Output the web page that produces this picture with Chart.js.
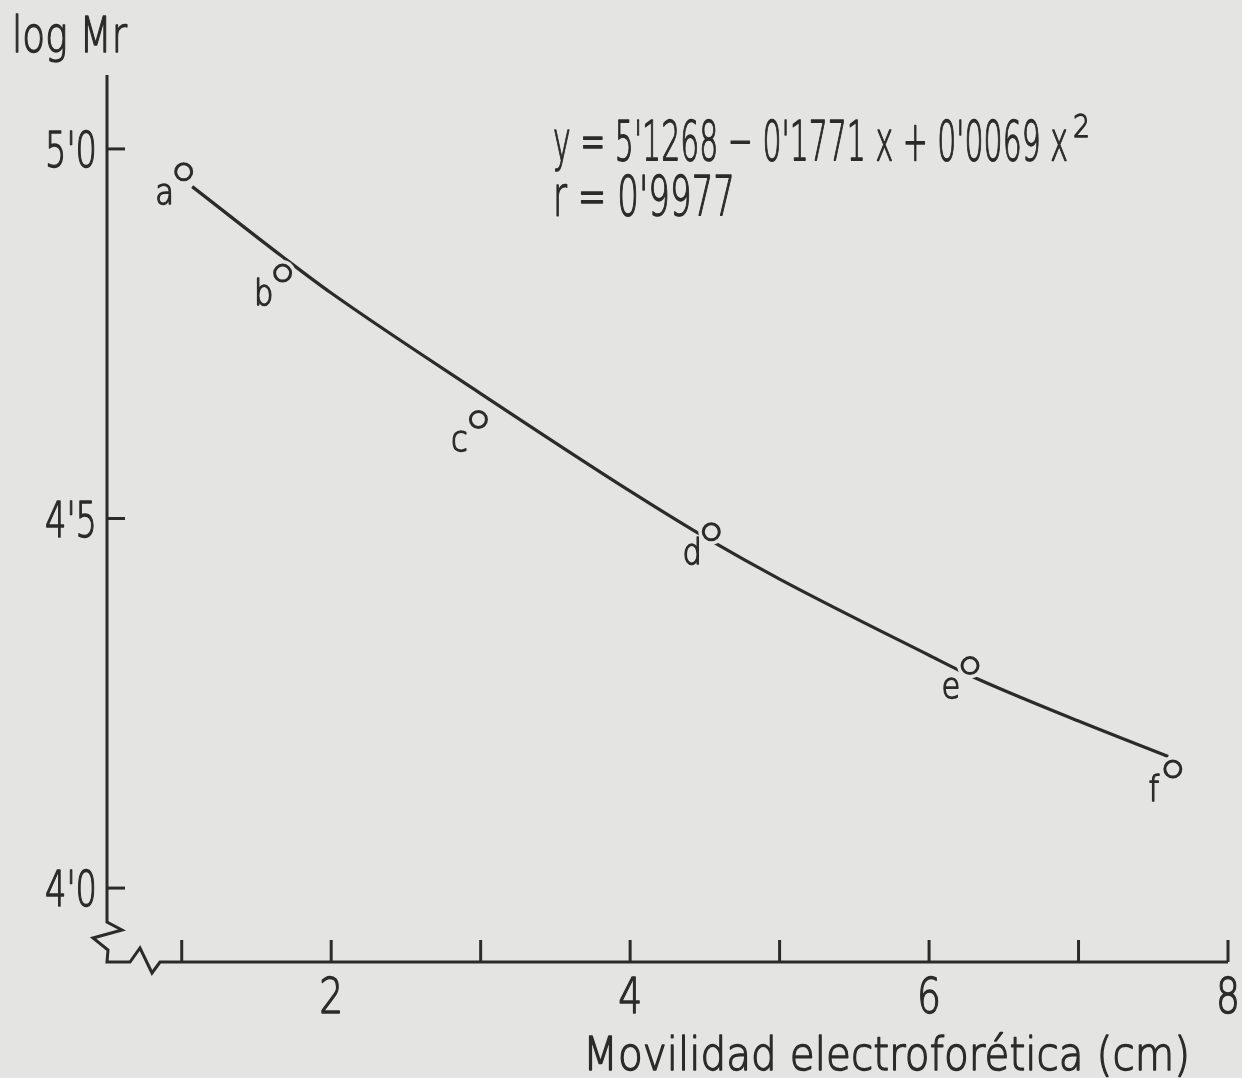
<!DOCTYPE html>
<html>
<head>
<meta charset="utf-8">
<script src="https://cdn.jsdelivr.net/npm/chart.js@4.4.1/dist/chart.umd.min.js"></script>
<style>
  html, body { margin: 0; padding: 0; background: #e4e4e2; }
  #wrap { width: 1242px; height: 1078px; }
</style>
</head>
<body>
<div id="wrap"><canvas id="gelChart" width="1242" height="1078"></canvas></div>
<script>
// measured standards (electrophoretic mobility vs log Mr)
const pointLabels = ['a', 'b', 'c', 'd', 'e', 'f'];
const mobility = [1.013, 1.675, 2.985, 4.543, 6.274, 7.631];
const logMr = [4.969, 4.832, 4.634, 4.482, 4.301, 4.161];

// fitted curve as traced on the drawing
const curveX = [1.07, 1.675, 2.0, 3.0, 4.0, 4.54, 5.0, 6.0, 6.27, 7.0, 7.6];
const curveY = [4.949, 4.854, 4.805, 4.669, 4.537, 4.470, 4.418, 4.315, 4.288, 4.226, 4.178];

const xTicks = [1, 2, 3, 4, 5, 6, 7, 8];
const xTickLabels = { 2: '2', 4: '4', 6: '6', 8: '8' };
const yTicks = [4.0, 4.5, 5.0];
const yTickLabels = ["4'0", "4'5", "5'0"];

const INK = '#2b2b2b';
const PAPER = '#e4e4e2';
const FONT = "'DejaVu Sans', sans-serif";
const WEIGHT = '200';
const TEXT_STROKE = 1.4;

function paint(ctx, text) {
    ctx.lineWidth = TEXT_STROKE;
    ctx.lineJoin = 'round';
    ctx.fillText(text, 0, 0);
    ctx.strokeText(text, 0, 0);
}

// draw text squeezed/stretched to a given width
function fitText(ctx, text, x, y, size, width, align) {
    ctx.save();
    ctx.font = WEIGHT + ' ' + size + 'px ' + FONT;
    const w = ctx.measureText(text).width;
    const sx = width / w;
    let left = x;
    if (align === 'right') left = x - width;
    if (align === 'center') left = x - width / 2;
    ctx.translate(left, y);
    ctx.scale(sx, 1);
    ctx.textAlign = 'left';
    ctx.textBaseline = 'alphabetic';
    paint(ctx, text);
    ctx.restore();
}

// draw text with a fixed horizontal squeeze factor
function squeezeText(ctx, text, x, y, size, sx) {
    ctx.save();
    ctx.font = WEIGHT + ' ' + size + 'px ' + FONT;
    const w = ctx.measureText(text).width * sx;
    ctx.translate(x - w / 2, y);
    ctx.scale(sx, 1);
    ctx.textAlign = 'left';
    paint(ctx, text);
    ctx.restore();
}

const axesPlugin = {
    id: 'handAxes',
    afterDraw(chart) {
        const ctx = chart.ctx;
        const xs = chart.scales.x;
        const ys = chart.scales.y;
        const x0 = xs.getPixelForValue(xs.min);
        const y0 = ys.getPixelForValue(ys.min);
        const top = ys.getPixelForValue(ys.max);
        const right = xs.getPixelForValue(xs.max);

        ctx.save();
        ctx.strokeStyle = INK;
        ctx.fillStyle = INK;
        ctx.lineWidth = 3;
        ctx.lineJoin = 'miter';
        ctx.lineCap = 'butt';

        // y axis with break, then x axis
        ctx.beginPath();
        ctx.moveTo(x0, top);
        ctx.lineTo(x0, y0 - 40);
        ctx.lineTo(x0 + 15, y0 - 32);
        ctx.lineTo(x0 - 14, y0 - 24);
        ctx.lineTo(x0 + 1, y0 - 12);
        ctx.lineTo(x0, y0);
        ctx.lineTo(x0 + 23, y0);
        ctx.lineTo(x0 + 33, y0 - 14);
        ctx.lineTo(x0 + 45, y0 + 11);
        ctx.lineTo(x0 + 53, y0);
        ctx.lineTo(right, y0);
        ctx.stroke();

        // x ticks (upwards)
        xTicks.forEach(v => {
            const px = xs.getPixelForValue(v);
            ctx.lineWidth = 3;
            ctx.beginPath();
            ctx.moveTo(px, y0);
            ctx.lineTo(px, y0 - 22);
            ctx.stroke();
            if (xTickLabels[v]) {
                fitText(ctx, xTickLabels[v], px, y0 + 51, 49, 24, 'center');
            }
        });

        // y ticks (to the right)
        yTicks.forEach((v, i) => {
            const py = ys.getPixelForValue(v);
            ctx.lineWidth = 3;
            ctx.beginPath();
            ctx.moveTo(x0, py);
            ctx.lineTo(x0 + 18, py);
            ctx.stroke();
            fitText(ctx, yTickLabels[i], x0 - 10, py + 18, 49, 52, 'right');
        });

        // titles
        fitText(ctx, 'log Mr', 12, 52, 50, 115, 'left');
        fitText(ctx, 'Movilidad electroforética (cm)', 583, 1070, 47, 607, 'left');

        // equation
        fitText(ctx, "y = 5'1268 \u2212 0'1771 x + 0'0069 x", 553, 160, 56, 515, 'left');
        fitText(ctx, '2', 1073, 137, 32, 17, 'left');
        fitText(ctx, "r = 0'9977", 553, 215, 56, 182, 'left');

        // point letters
        const meta = chart.getDatasetMeta(0);
        meta.data.forEach((pt, i) => {
            squeezeText(ctx, pointLabels[i], pt.x - 19, pt.y + 32, 36, 0.85);
        });
        ctx.restore();
    }
};

const ctx = document.getElementById('gelChart').getContext('2d');
const gelChart = new Chart(ctx, {
    type: 'scatter',
    data: {
        datasets: [
            {
                label: 'patrones',
                data: mobility.map((m, i) => ({ x: m, y: logMr[i] })),
                showLine: false,
                pointStyle: 'circle',
                pointRadius: 8,
                pointBorderWidth: 3,
                pointBorderColor: INK,
                pointBackgroundColor: 'rgba(0,0,0,0)',
                order: 0
            },
            {
                label: 'halo',
                data: mobility.map((m, i) => ({ x: m, y: logMr[i] })),
                showLine: false,
                pointRadius: 13,
                pointBorderWidth: 0,
                pointBackgroundColor: PAPER,
                order: 1
            },
            {
                label: 'ajuste',
                data: curveX.map((c, i) => ({ x: c, y: curveY[i] })),
                showLine: true,
                borderColor: INK,
                borderWidth: 3.2,
                pointRadius: 0,
                cubicInterpolationMode: 'monotone',
                fill: false,
                order: 2
            }
        ]
    },
    options: {
        responsive: false,
        animation: false,
        layout: { padding: { left: 107, right: 14, top: 75, bottom: 116 } },
        plugins: {
            legend: { display: false },
            tooltip: { enabled: false }
        },
        scales: {
            x: { type: 'linear', min: 0.5, max: 8, display: false },
            y: { type: 'linear', min: 3.9, max: 5.1, display: false }
        }
    },
    plugins: [axesPlugin]
});
</script>
</body>
</html>
